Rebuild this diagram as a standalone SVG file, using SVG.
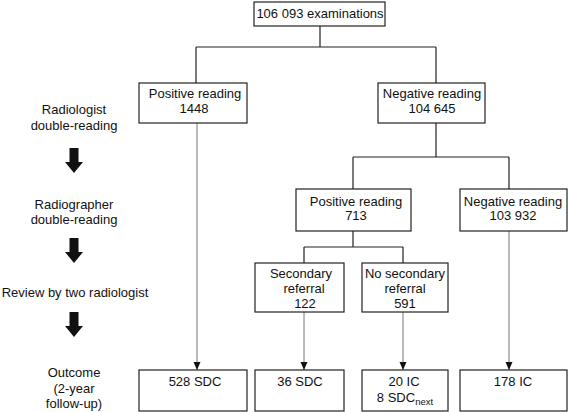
<svg xmlns="http://www.w3.org/2000/svg" width="568" height="412" viewBox="0 0 568 412">
<style>
.box{fill:#fff;stroke:#222;stroke-width:1.2}
text{font-family:"Liberation Sans",Arial,sans-serif;font-size:13px;fill:#111;text-anchor:middle}
.ln{fill:none;stroke:#222;stroke-width:1.2}
.ar{fill:none;stroke:#777;stroke-width:1}
.big{fill:#111}
</style>
<defs>
<marker id="ah" viewBox="0 0 8 8" refX="8" refY="4" markerWidth="8" markerHeight="8" markerUnits="userSpaceOnUse" orient="auto">
<path d="M0,0.5 L8,4 L0,7.5 Z" fill="#111"/>
</marker>
<path id="bigarrow" d="M-4.5,0 H4.5 V14 H9 L0,25 L-9,14 H-4.5 Z"/>
</defs>
<g id="connectors">
<path class="ln" d="M320,26 V47 M196,47 H436 M196,47 V83 M436,47 V83 M436,123 V157 M353,157 H509 M353,157 V189 M509,157 V189 M353,231 V247 M304,247 H403 M304,247 V263 M403,247 V263"/>
<path class="ar" d="M197,123 V370" marker-end="url(#ah)"/>
<path class="ar" d="M304,312 V370" marker-end="url(#ah)"/>
<path class="ar" d="M403,312 V370" marker-end="url(#ah)"/>
<path class="ar" d="M509,231 V370" marker-end="url(#ah)"/>
</g>
<g id="stages">
<text x="74" y="114">Radiologist</text>
<text x="74" y="130">double-reading</text>
<use href="#bigarrow" class="big" x="74" y="148"/>
<text x="74" y="209">Radiographer</text>
<text x="74" y="224">double-reading</text>
<use href="#bigarrow" class="big" x="74" y="238"/>
<text x="75" y="297">Review by two radiologist</text>
<use href="#bigarrow" class="big" x="74" y="312"/>
<text x="74" y="377">Outcome</text>
<text x="74" y="393">(2-year</text>
<text x="74" y="408">follow-up)</text>
</g>
<g id="n-total"><rect class="box" x="254" y="2" width="131" height="24"/><text x="320" y="18">106 093 examinations</text></g>
<g id="n-pos1"><rect class="box" x="139" y="83" width="108" height="40"/><text x="195" y="98">Positive reading</text><text x="194" y="113">1448</text></g>
<g id="n-neg1"><rect class="box" x="378" y="83" width="107" height="40"/><text x="432" y="98">Negative reading</text><text x="432" y="113">104 645</text></g>
<g id="n-pos2"><rect class="box" x="296" y="189" width="115" height="42"/><text x="356" y="206">Positive reading</text><text x="356" y="220">713</text></g>
<g id="n-neg2"><rect class="box" x="460" y="189" width="107" height="42"/><text x="513" y="206">Negative reading</text><text x="513" y="220">103 932</text></g>
<g id="n-sec"><rect class="box" x="255" y="263" width="89" height="49"/><text x="301" y="278">Secondary</text><text x="304" y="293">referral</text><text x="305" y="308">122</text></g>
<g id="n-nosec"><rect class="box" x="362" y="263" width="86" height="49"/><text x="405" y="278">No secondary</text><text x="405" y="293">referral</text><text x="405" y="308">591</text></g>
<g id="n-o1"><rect class="box" x="139" y="370" width="108" height="41"/><text x="195" y="386">528 SDC</text></g>
<g id="n-o2"><rect class="box" x="255" y="370" width="89" height="41"/><text x="300" y="386">36 SDC</text></g>
<g id="n-o3"><rect class="box" x="362" y="370" width="86" height="41"/><text x="404" y="386">20 IC</text><text x="405" y="402">8 SDC<tspan font-size="9.5" dy="3">next</tspan></text></g>
<g id="n-o4"><rect class="box" x="460" y="370" width="107" height="41"/><text x="513" y="386">178 IC</text></g>
</svg>
